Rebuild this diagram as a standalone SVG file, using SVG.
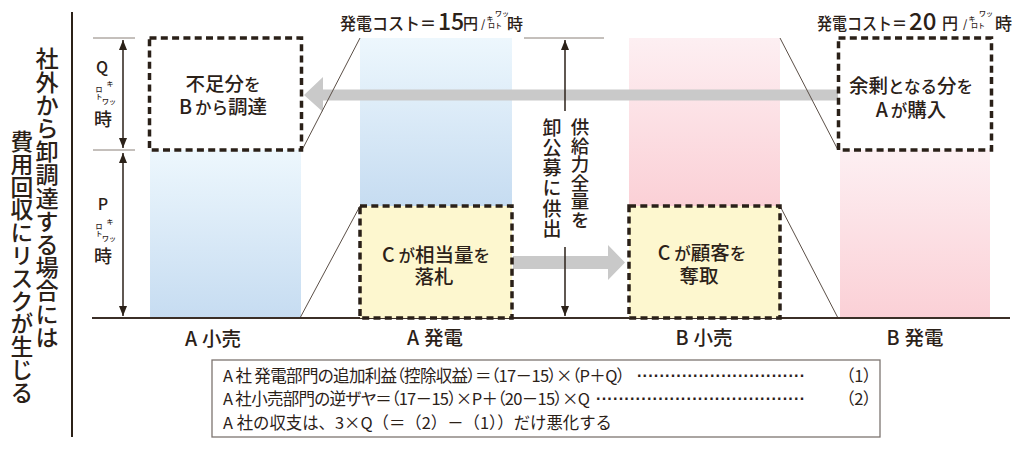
<svg xmlns="http://www.w3.org/2000/svg" width="1024" height="450" viewBox="0 0 1024 450">
<style>
  text { font-family: "Noto Sans CJK JP", "Noto Sans", sans-serif; fill: #2b2118; font-weight: 500; }
  .lbl { font-size: 19.5px; text-anchor: middle; }
  .kana { font-size: 16.5px; }
  .tiny { font-size: 7px; text-anchor: middle; }
  .unit { font-size: 18px; text-anchor: middle; }
  .axis { font-size: 19.5px; text-anchor: middle; }
  .vert { writing-mode: vertical-rl; }
  .frm { font-size: 16.5px; font-weight: 400; font-feature-settings: "palt" 1; }
  .frm3 { font-size: 16.5px; font-weight: 400; }
  .dots { font-family: "Liberation Sans", sans-serif; font-size: 16px; font-weight: 700; }
  .dash { fill: #ffffff; stroke: #2a2018; stroke-width: 3.5; stroke-dasharray: 7 4.3; }
  .yel { fill: #fdf7cf; stroke: #2a2018; stroke-width: 3.5; stroke-dasharray: 7 4.3; }
  .thin { stroke: #5b4f47; stroke-width: 1; fill: none; }
  .tick { stroke: #8a8079; stroke-width: 1; }
  .dim { stroke: #2b2118; stroke-width: 1.5; fill: none; }
  .garrow { fill: #c9c9c9; }
</style>
<defs>
  <linearGradient id="gBlue" x1="0" y1="0" x2="0" y2="1">
    <stop offset="0" stop-color="#edf7fd"/>
    <stop offset="1" stop-color="#c6dcf1"/>
  </linearGradient>
  <linearGradient id="gPink" x1="0" y1="0" x2="0" y2="1">
    <stop offset="0" stop-color="#fdeff2"/>
    <stop offset="1" stop-color="#fbd0d6"/>
  </linearGradient>
  <marker id="ah" viewBox="0 0 10 8" refX="10" refY="4" markerWidth="10" markerHeight="8" markerUnits="userSpaceOnUse" orient="auto-start-reverse">
    <path d="M0,0 L10,4 L0,8 z" fill="#2b2118"/>
  </marker>
</defs>

<rect width="1024" height="450" fill="#ffffff"/>

<!-- left title -->
<g id="title">
  <line x1="72" y1="12" x2="72" y2="437" stroke="#2b2118" stroke-width="2"/>
  <text class="vert" x="47" y="47" font-size="23.2">社外から卸調達する場合には</text>
  <text class="vert" x="22" y="130" font-size="22.8">費用回収にリスクが生じる</text>
</g>

<!-- columns -->
<g id="col-a-retail">
  <rect x="150" y="150" width="151" height="168" fill="url(#gBlue)"/>
</g>
<g id="col-a-gen">
  <rect x="360" y="38" width="152" height="168" fill="url(#gBlue)"/>
</g>
<g id="col-b-retail">
  <rect x="629" y="38" width="151" height="168" fill="url(#gPink)"/>
</g>
<g id="col-b-gen">
  <rect x="840" y="150" width="150" height="168" fill="url(#gPink)"/>
</g>

<!-- connectors -->
<g id="connectors">
  <path class="garrow" d="M838,89.5 L323,89.5 L323,77 L304,95 L323,112 L323,100.5 L838,100.5 z"/>
  <path class="garrow" d="M513,256 L608,256 L608,245 L625,262.5 L608,280 L608,269 L513,269 z"/>
  <line class="thin" x1="302" y1="150" x2="360" y2="38"/>
  <line class="thin" x1="300" y1="318" x2="360" y2="206"/>
  <line class="thin" x1="780" y1="38" x2="838" y2="150"/>
  <line class="thin" x1="780" y1="206" x2="838" y2="318"/>
  <line class="tick" x1="93" y1="38" x2="135" y2="38"/>
  <line class="tick" x1="93" y1="150" x2="135" y2="150"/>
  <line class="tick" x1="524" y1="38" x2="604" y2="38"/>
  <line class="dim" x1="123" y1="40" x2="123" y2="148" marker-start="url(#ah)" marker-end="url(#ah)"/>
  <line class="dim" x1="123" y1="153" x2="123" y2="316" marker-start="url(#ah)" marker-end="url(#ah)"/>
  <line class="dim" x1="565" y1="40" x2="565" y2="111" marker-start="url(#ah)"/>
  <line class="dim" x1="565" y1="247" x2="565" y2="316" marker-end="url(#ah)"/>
  <line x1="92" y1="318" x2="1010" y2="318" stroke="#3b2f27" stroke-width="2"/>
</g>

<!-- boxes -->
<g id="box-shortfall">
  <rect class="dash" x="149.5" y="38" width="152" height="112"/>
  <text class="lbl" x="223" y="91">不足分<tspan class="kana">を</tspan></text>
  <text class="lbl" x="223" y="114">B<tspan class="kana" dx="3">から</tspan>調達</text>
</g>
<g id="box-surplus">
  <rect class="dash" x="838.5" y="38" width="153" height="112"/>
  <text class="lbl" x="911" y="93">余剰<tspan class="kana">となる</tspan>分<tspan class="kana">を</tspan></text>
  <text class="lbl" x="911" y="117">A<tspan class="kana" dx="3">が</tspan>購入</text>
</g>
<g id="box-c-bid">
  <rect class="yel" x="360" y="206" width="152" height="112"/>
  <text class="lbl" x="436" y="262">C<tspan class="kana" dx="4">が</tspan>相当量<tspan class="kana">を</tspan></text>
  <text class="lbl" x="434" y="284">落札</text>
</g>
<g id="box-c-take">
  <rect class="yel" x="629" y="206" width="151" height="112"/>
  <text class="lbl" x="702" y="260">C<tspan class="kana" dx="4">が</tspan>顧客<tspan class="kana">を</tspan></text>
  <text class="lbl" x="699" y="283">奪取</text>
</g>

<!-- center vertical label -->
<g id="supply-label">
  <text class="vert" x="580" y="118" font-size="18.5">供給力全量を</text>
  <text class="vert" x="552" y="118" font-size="19" letter-spacing="1.2">卸公募に供出</text>
</g>

<!-- Q / P units -->
<g id="q-label">
  <text x="102" y="73" font-size="16" text-anchor="middle" font-weight="400">Q</text>
  <text class="tiny" x="110" y="86">キ</text>
  <text class="tiny" x="99" y="92">ロ</text>
  <text class="tiny" x="99" y="99">ト</text>
  <text class="tiny" x="109" y="104" font-size="6.5">ワッ</text>
  <text class="unit" x="103" y="126">時</text>
</g>
<g id="p-label">
  <text x="103" y="210" font-size="16" text-anchor="middle" font-weight="400">P</text>
  <text class="tiny" x="110" y="224">キ</text>
  <text class="tiny" x="99" y="229">ロ</text>
  <text class="tiny" x="99" y="236">ト</text>
  <text class="tiny" x="109" y="241" font-size="6.5">ワッ</text>
  <text class="unit" x="103" y="263">時</text>
</g>

<!-- cost headers -->
<g id="cost-a">
  <text x="340" y="30" font-size="17.5" textLength="96" lengthAdjust="spacingAndGlyphs">発電コスト＝</text>
  <text x="438" y="30" font-size="23">15</text>
  <text x="463" y="29" font-size="15">円</text>
  <text x="481" y="28" font-size="11" font-weight="400">/</text>
  <text class="tiny" x="490" y="21" font-size="6">キ</text>
  <text class="tiny" x="495" y="28" font-size="6">ロト</text>
  <text class="tiny" x="502" y="16" font-size="5.5">ワッ</text>
  <text x="507" y="30" font-size="16">時</text>
</g>
<g id="cost-b">
  <text x="817" y="30" font-size="17.5" textLength="90" lengthAdjust="spacingAndGlyphs">発電コスト＝</text>
  <text x="909" y="30" font-size="24">20</text>
  <text x="942" y="29" font-size="16">円</text>
  <text x="963" y="28" font-size="11" font-weight="400">/</text>
  <text class="tiny" x="972" y="21" font-size="6">キ</text>
  <text class="tiny" x="978" y="28" font-size="6">ロト</text>
  <text class="tiny" x="986" y="16" font-size="5.5">ワッ</text>
  <text x="995" y="30" font-size="17">時</text>
</g>

<!-- axis labels -->
<g id="axis-labels">
  <text class="axis" x="213" y="346">A<tspan dx="5">小売</tspan></text>
  <text class="axis" x="435" y="345">A<tspan dx="5">発電</tspan></text>
  <text class="axis" x="704" y="345">B<tspan dx="5">小売</tspan></text>
  <text class="axis" x="915" y="345">B<tspan dx="5">発電</tspan></text>
</g>

<!-- formula box -->
<g id="formula">
  <rect x="212" y="360" width="668" height="77" fill="#ffffff" stroke="#7d7570" stroke-width="1.3"/>
  <text class="frm" x="223" y="382" textLength="402" lengthAdjust="spacing">A 社 発電部門の追加利益（控除収益）＝（17－15）×（P＋Q）</text>
  <text class="dots" x="637" y="381" textLength="168" lengthAdjust="spacing">······························</text>
  <text class="frm" x="846" y="382">（1）</text>
  <text class="frm" x="223" y="405" textLength="367" lengthAdjust="spacing">A 社小売部門の逆ザヤ＝（17－15）×P＋（20－15）×Q</text>
  <text class="dots" x="596" y="404" textLength="209" lengthAdjust="spacing">·····································</text>
  <text class="frm" x="846" y="405">（2）</text>
  <text class="frm3" x="223" y="429" textLength="389" lengthAdjust="spacingAndGlyphs">A 社の収支は、3×Q（＝（2）－（1））だけ悪化する</text>
</g>
</svg>
